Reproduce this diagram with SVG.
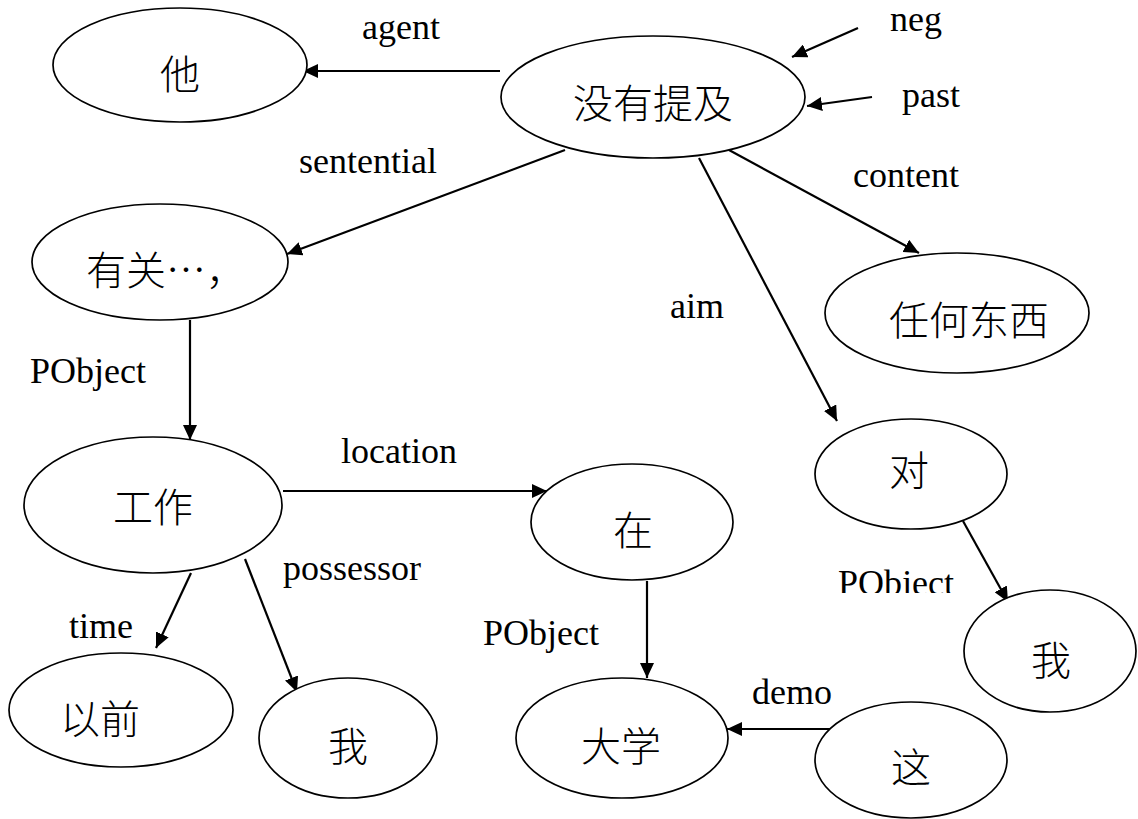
<svg xmlns="http://www.w3.org/2000/svg" width="1138" height="819" viewBox="0 0 1138 819">
<style>
.n{fill:#fff;stroke:#000;stroke-width:1.7}
.c{font-family:"Noto Sans CJK SC","Noto Sans CJK JP",sans-serif;font-size:40px;font-weight:300;fill:#000;text-anchor:middle}
.l{font-family:"Liberation Serif","Times New Roman",serif;font-size:36px;fill:#000}
.e{stroke:#000;stroke-width:2.2;fill:none;marker-end:url(#ah)}
</style>
<defs>
<marker id="ah" markerUnits="userSpaceOnUse" markerWidth="16" markerHeight="14" refX="15" refY="7" orient="auto">
<path d="M0,0 L15,7 L0,14 z" fill="#000"/>
</marker>
<clipPath id="clipR"><rect x="800" y="540" width="200" height="53"/></clipPath>
</defs>
<rect width="1138" height="819" fill="#fff"/>
<g id="connectors">
<line class="e" x1="500" y1="71" x2="303" y2="71"/>
<line class="e" x1="858" y1="28" x2="792" y2="57"/>
<line class="e" x1="872" y1="97" x2="807" y2="106"/>
<line class="e" x1="565" y1="150" x2="287" y2="254"/>
<line class="e" x1="729" y1="150" x2="919" y2="253"/>
<line class="e" x1="699" y1="158" x2="837" y2="421"/>
<line class="e" x1="963" y1="521" x2="1008" y2="602"/>
<line class="e" x1="841" y1="729" x2="727" y2="729"/>
<line class="e" x1="190" y1="320" x2="190" y2="440"/>
<line class="e" x1="283" y1="491" x2="547" y2="491"/>
<line class="e" x1="647" y1="581" x2="647" y2="678"/>
<line class="e" x1="191" y1="573" x2="156" y2="648"/>
<line class="e" x1="245" y1="559" x2="297" y2="692"/>
<text class="l" x="362" y="39">agent</text>
<text class="l" x="890" y="31">neg</text>
<text class="l" x="902" y="107">past</text>
<text class="l" x="853" y="187">content</text>
<text class="l" x="299" y="173">sentential</text>
<text class="l" x="670" y="318">aim</text>
<text class="l" x="30" y="383">PObject</text>
<text class="l" x="341" y="463">location</text>
<text class="l" x="283" y="580">possessor</text>
<text class="l" x="69" y="638">time</text>
<text class="l" x="483" y="645">PObject</text>
<text class="l" x="752" y="704">demo</text>
<text class="l" x="838" y="595" clip-path="url(#clipR)">PObject</text>
</g>
<g id="n-ta"><ellipse class="n" cx="180" cy="65" rx="127" ry="57"/><text class="c" x="180" y="89">他</text></g>
<g id="n-meiyoutiji"><ellipse class="n" cx="653" cy="97" rx="152" ry="61"/><text class="c" x="653" y="118">没有提及</text></g>
<g id="n-youguan"><ellipse class="n" cx="160" cy="262" rx="128" ry="58"/><text class="c" x="86" y="285" style="text-anchor:start">有关…，</text></g>
<g id="n-renhedongxi"><ellipse class="n" cx="957" cy="313" rx="132" ry="60"/><text class="c" x="969" y="335">任何东西</text></g>
<g id="n-dui"><ellipse class="n" cx="911" cy="474" rx="96" ry="55"/><text class="c" x="909" y="485">对</text></g>
<g id="n-wo-right"><ellipse class="n" cx="1050" cy="651" rx="86" ry="61"/><text class="c" x="1051" y="675">我</text></g>
<g id="n-zhe"><ellipse class="n" cx="911" cy="760" rx="96" ry="58"/><text class="c" x="911" y="782">这</text></g>
<g id="n-gongzuo"><ellipse class="n" cx="153" cy="505" rx="129" ry="68"/><text class="c" x="153" y="522">工作</text></g>
<g id="n-yiqian"><ellipse class="n" cx="121" cy="710" rx="112" ry="57"/><text class="c" x="100" y="734">以前</text></g>
<g id="n-wo-left"><ellipse class="n" cx="348" cy="738" rx="89" ry="60"/><text class="c" x="348" y="761">我</text></g>
<g id="n-zai"><ellipse class="n" cx="632" cy="522" rx="101" ry="58"/><text class="c" x="633" y="545">在</text></g>
<g id="n-daxue"><ellipse class="n" cx="622" cy="738" rx="106" ry="60"/><text class="c" x="621" y="761">大学</text></g>
</svg>
